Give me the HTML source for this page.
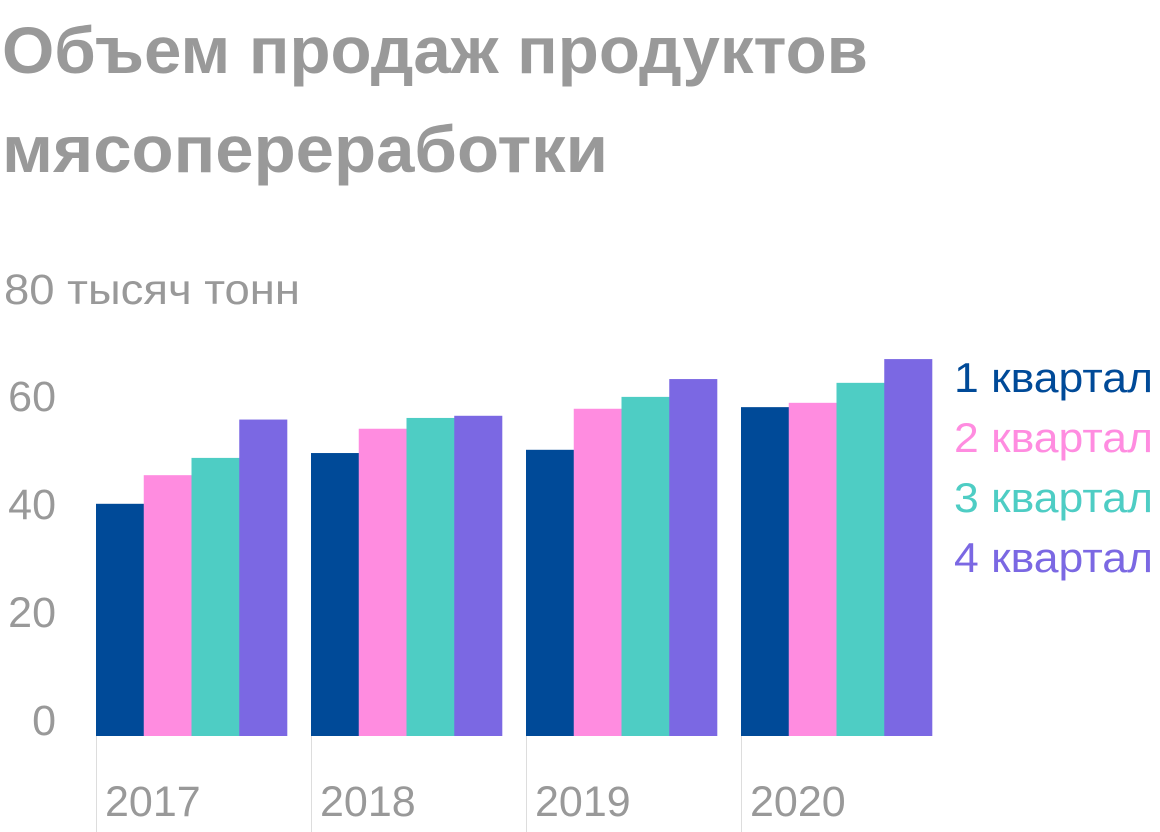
<!DOCTYPE html>
<html><head><meta charset="utf-8"><style>
html,body{margin:0;padding:0;background:#fff;}
svg{display:block;font-family:"Liberation Sans",sans-serif;}
</style></head><body>
<svg id="chart" width="1160" height="832" viewBox="0 0 1160 832">
<text x="2" y="73" font-size="66" font-weight="bold" fill="#999" textLength="866" lengthAdjust="spacingAndGlyphs">Объем продаж продуктов</text>
<text x="2" y="172" font-size="66" font-weight="bold" fill="#999" textLength="606" lengthAdjust="spacingAndGlyphs">мясопереработки</text>
<text x="4" y="304" font-size="43" fill="#999" textLength="296" lengthAdjust="spacingAndGlyphs">80 тысяч тонн</text>
<g id="yticks"></g>
<g id="xaxis"></g>
<g id="bars"></g>
<g id="legend"></g>
</svg>
<script>
const categories = ["2017","2018","2019","2020"];
const seriesNames = ["1 квартал","2 квартал","3 квартал","4 квартал"];
const q1 = [43, 52.4, 53, 60.9];
const q2 = [48.3, 56.9, 60.6, 61.7];
const q3 = [51.5, 58.9, 62.8, 65.4];
const q4 = [58.6, 59.3, 66.1, 69.8];
const yTicks = [0, 20, 40, 60];
const colors = ["#004a98","#ff8ce0","#4ecdc4","#7b68e3"];
const series = [q1,q2,q3,q4];
const NS="http://www.w3.org/2000/svg";
const y0=736, pxPer=5.4;
const yScale=v=>y0-v*pxPer;
const groupX=i=>96+i*215, barW=47.75;
function mk(t,a,p){const e=document.createElementNS(NS,t);for(const k in a)e.setAttribute(k,a[k]);p.appendChild(e);return e;}
const yt=document.getElementById('yticks');
yTicks.forEach(v=>{
  const t=mk('text',{x:56,y:yScale(v)-1,'font-size':43,fill:'#999','text-anchor':'end'},yt);
  
  
  t.textContent=v;
});
const xa=document.getElementById('xaxis');
categories.forEach((c,i)=>{
  const l=mk('line',{x1:groupX(i)+0.5,x2:groupX(i)+0.5,y1:y0,y2:832,stroke:'#ddd','stroke-width':1},xa);
  
  
  const t=mk('text',{x:groupX(i)+9,y:816,'font-size':43,fill:'#999'},xa);
  
  
  t.textContent=c;
});
const bg=document.getElementById('bars');
series.forEach((s,si)=>{
  s.forEach((v,i)=>{
    const r=mk('rect',{x:groupX(i)+si*barW,y:yScale(v),width:barW+0.3,height:y0-yScale(v),fill:colors[si]},bg);
    
    
  });
});
const lg=document.getElementById('legend');
seriesNames.forEach((n,i)=>{
  const t=mk('text',{x:954,y:392+i*60,'font-size':42,fill:colors[i],textLength:199,lengthAdjust:'spacingAndGlyphs'},lg);
  
  
  t.textContent=n;
});
</script>
</body></html>
